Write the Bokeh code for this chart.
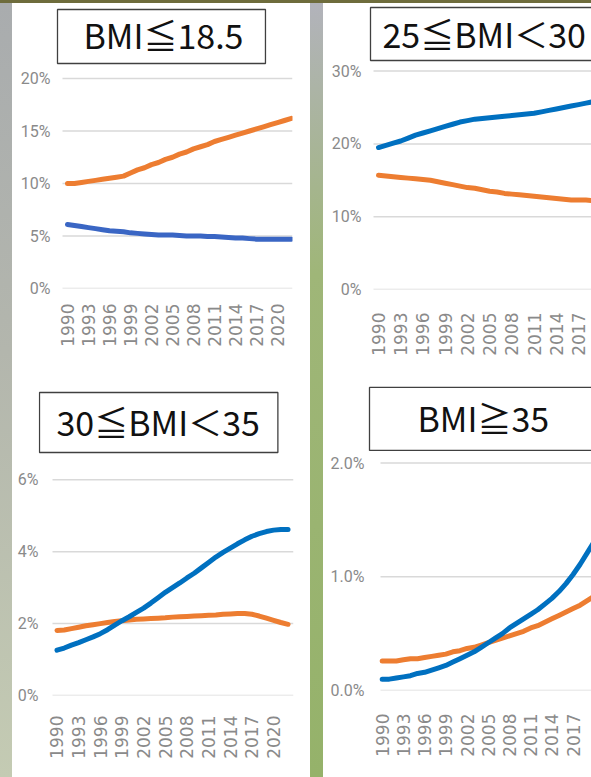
from math import pi
from bokeh.plotting import figure
from bokeh.layouts import row, column
from bokeh.models import FixedTicker, PrintfTickFormatter, Range1d, Spacer, Label
from bokeh.embed import file_html
from bokeh.resources import INLINE

years = [1990, 1991, 1992, 1993, 1994, 1995, 1996, 1997, 1998, 1999, 2000,
         2001, 2002, 2003, 2004, 2005, 2006, 2007, 2008, 2009, 2010, 2011,
         2012, 2013, 2014, 2015, 2016, 2017, 2018, 2019, 2020, 2021, 2022]
year_ticks = [1990, 1993, 1996, 1999, 2002, 2005, 2008, 2011, 2014, 2017, 2020]

# BMI<=18.5 (%)
under185_blue = [6.1, 6.0, 5.9, 5.8, 5.7, 5.6, 5.5, 5.45, 5.4, 5.3, 5.25,
                 5.2, 5.15, 5.1, 5.1, 5.1, 5.05, 5.0, 5.0, 5.0, 4.95, 4.95,
                 4.9, 4.85, 4.8, 4.8, 4.75, 4.7, 4.7, 4.7, 4.7, 4.7, 4.7]
under185_orange = [10.0, 10.0, 10.1, 10.2, 10.3, 10.4, 10.5, 10.6, 10.7, 11.0, 11.3,
                   11.5, 11.8, 12.0, 12.3, 12.5, 12.8, 13.0, 13.3, 13.5, 13.7, 14.0,
                   14.2, 14.4, 14.6, 14.8, 15.0, 15.2, 15.4, 15.6, 15.8, 16.0, 16.2]
# 25<=BMI<30 (%)
bmi25_30_blue = [19.5, 19.8, 20.1, 20.4, 20.8, 21.2, 21.5, 21.8, 22.1, 22.4, 22.7,
                 23.0, 23.2, 23.4, 23.5, 23.6, 23.7, 23.8, 23.9, 24.0, 24.1, 24.2,
                 24.4, 24.6, 24.8, 25.0, 25.2, 25.4, 25.6, 25.8, 26.0, 26.1, 26.2]
bmi25_30_orange = [15.7, 15.6, 15.5, 15.4, 15.3, 15.2, 15.1, 15.0, 14.8, 14.6, 14.4,
                   14.2, 14.0, 13.9, 13.7, 13.5, 13.4, 13.2, 13.1, 13.0, 12.9, 12.8,
                   12.7, 12.6, 12.5, 12.4, 12.3, 12.3, 12.3, 12.2, 12.2, 12.1, 12.1]
# 30<=BMI<35 (%)
bmi30_35_blue = [1.26, 1.32, 1.40, 1.47, 1.55, 1.63, 1.72, 1.83, 1.96, 2.08, 2.19,
                 2.31, 2.43, 2.57, 2.72, 2.87, 3.00, 3.13, 3.27, 3.40, 3.55, 3.70,
                 3.85, 3.98, 4.10, 4.22, 4.33, 4.43, 4.50, 4.56, 4.60, 4.62, 4.62]
bmi30_35_orange = [1.81, 1.82, 1.86, 1.90, 1.94, 1.97, 2.00, 2.03, 2.06, 2.08, 2.10,
                   2.12, 2.13, 2.14, 2.15, 2.16, 2.18, 2.19, 2.20, 2.21, 2.22, 2.23,
                   2.24, 2.26, 2.27, 2.28, 2.28, 2.26, 2.21, 2.15, 2.09, 2.03, 1.98]
# BMI>=35 (%)
over35_blue = [0.10, 0.10, 0.11, 0.12, 0.13, 0.15, 0.16, 0.18, 0.20, 0.22, 0.25,
               0.28, 0.31, 0.34, 0.38, 0.42, 0.46, 0.50, 0.55, 0.59, 0.63, 0.67,
               0.71, 0.76, 0.81, 0.87, 0.94, 1.02, 1.11, 1.21, 1.31, 1.41, 1.51]
over35_orange = [0.26, 0.26, 0.26, 0.27, 0.28, 0.28, 0.29, 0.30, 0.31, 0.32, 0.34,
                 0.35, 0.37, 0.38, 0.40, 0.42, 0.44, 0.46, 0.48, 0.50, 0.52, 0.55,
                 0.57, 0.60, 0.63, 0.66, 0.69, 0.72, 0.75, 0.79, 0.83, 0.87, 0.91]

ORANGE = "#ed7d31"
BLUE = "#0070c0"
BLUE_DARK = "#3a66c4"
TICK_FONT = "Roboto"
YEAR_FONT = "DejaVu Sans"
TITLE_FONT = "Noto Sans CJK JP"


def panel(width, height, xr, yr, borders, yticks, yfmt, grid_start, blue, orange,
          blue_color, title, tx, ty, pad, xstand, ystand):
    left, right, bottom = borders
    p = figure(width=width, height=height, x_range=Range1d(*xr), y_range=Range1d(*yr),
               output_backend="svg", toolbar_location=None,
               min_border_left=left, min_border_right=right,
               min_border_top=0, min_border_bottom=bottom)
    p.frame_align = False
    p.background_fill_color = "white"
    p.border_fill_color = "white"
    p.outline_line_color = None
    p.xgrid.visible = False
    p.ygrid.visible = False

    p.yaxis.ticker = FixedTicker(ticks=yticks)
    p.yaxis.formatter = PrintfTickFormatter(format=yfmt)
    p.xaxis.ticker = FixedTicker(ticks=year_ticks)
    p.xaxis.formatter = PrintfTickFormatter(format="%d")
    p.xaxis.major_label_orientation = pi / 2
    for ax in (p.xaxis, p.yaxis):
        ax.axis_line_color = None
        ax.major_tick_line_color = None
        ax.minor_tick_line_color = None
        ax.major_tick_out = 0
        ax.major_tick_in = 0
        ax.minor_tick_out = 0
        ax.minor_tick_in = 0
        ax.major_label_text_color = "#8a8a8a"
    p.yaxis.major_label_text_font = TICK_FONT
    p.yaxis.major_label_text_font_size = "16px"
    p.yaxis.major_label_standoff = ystand
    p.xaxis.major_label_text_font = YEAR_FONT
    p.xaxis.major_label_text_font_size = "17px"
    p.xaxis.major_label_standoff = xstand

    # horizontal gridlines at the y ticks, starting where the chart area starts
    n = len(yticks)
    p.segment(x0=[grid_start] * n, y0=yticks, x1=[xr[1]] * n, y1=yticks,
              line_color="#d9d9d9", line_width=1.5)

    p.line(years, orange, color=ORANGE, line_width=5, line_cap="round")
    p.line(years, blue, color=blue_color, line_width=5, line_cap="round")

    p.add_layout(Label(x=tx, y=ty, text=title, text_font=TITLE_FONT,
                       text_font_size="34px", text_color="#111111",
                       text_align="left", text_baseline="bottom",
                       background_fill_color="white",
                       border_line_color="#404040", border_line_width=1.3,
                       padding=pad))
    return p


f1 = panel(298, 372, (1988.286, 2022.143), (0, 27.143), (43, 18, 87),
           [0, 5, 10, 15, 20], "%d%%", 1989.286, under185_blue, under185_orange,
           BLUE_DARK, "BMI≦18.5", 1988.571, 21.429,
           dict(left=26, right=22, top=1, bottom=4), 15, 5)
f2 = panel(268, 372, (1988.650, 2018.745), (0, 39.286), (45, 0, 86),
           [0, 10, 20, 30], "%d%%", 1989.325, bmi25_30_blue, bmi25_30_orange,
           BLUE, "25≦BMI＜30", 1988.920, 31.456,
           dict(left=12, right=26, top=1, bottom=3), 23, 7)
f3 = panel(298, 402, (1987.438, 2022.756), (0, 8.901), (26, 17, 82),
           [0, 2, 4, 6], "%d%%", 1989.377, bmi30_35_blue, bmi30_35_orange,
           BLUE, "30≦BMI＜35", 1987.576, 6.759,
           dict(left=17, right=18, top=4, bottom=7), 20, 0)
f4 = panel(268, 402, (1987.921, 2019.604), (0, 2.770), (44, 0, 87),
           [0, 1, 2], "%.1f%%", 1989.760, over35_blue, over35_orange,
           BLUE, "BMI≧35", 1988.204, 2.111,
           dict(left=48, right=48, top=6, bottom=8), 23, 3)

WHITE = {"background-color": "white"}
left_col = column(f1, f3, spacing=0, styles=WHITE)
right_col = column(f2, f4, spacing=0, styles=WHITE)
edge = Spacer(width=12, height=774,
              styles={"background": "linear-gradient(to bottom, #a9acae 0%, #b3b6ad 45%, #c4cbb3 100%)"})
gap = Spacer(width=13, height=774,
             styles={"background": "linear-gradient(to bottom, #b2b3bb 0%, #9fb678 35%, #95b26a 100%)"})
band = Spacer(width=591, height=3, styles={"background-color": "#6e6c3c"})
root = column(band, row(edge, left_col, gap, right_col, spacing=0), spacing=0,
              styles=WHITE)

open("out.html", "w").write(file_html(root, INLINE))
